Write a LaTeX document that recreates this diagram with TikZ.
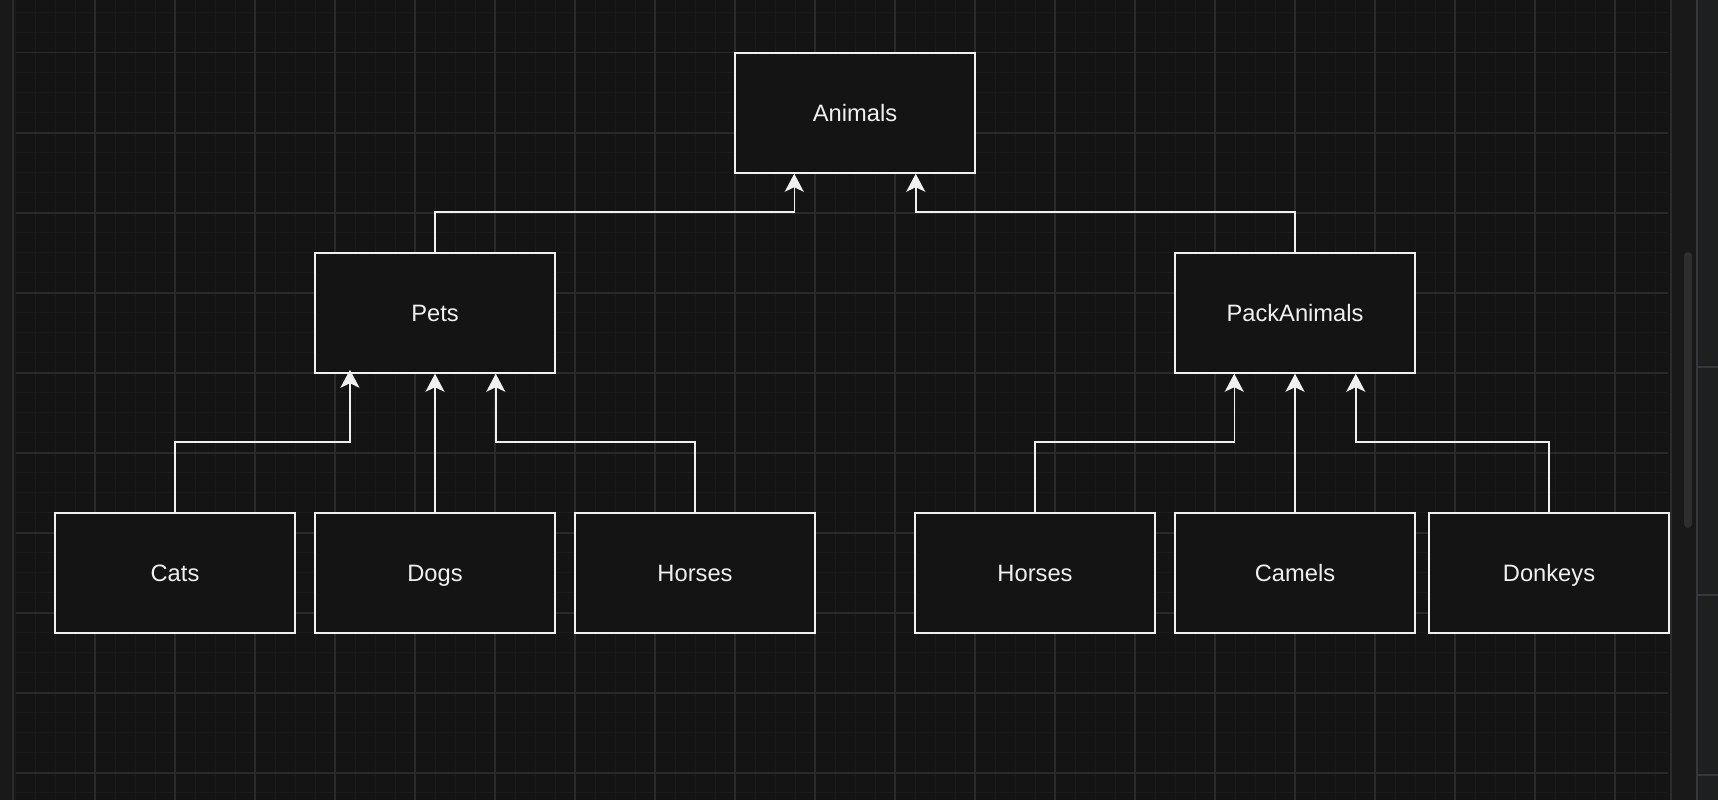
\documentclass[tikz,border=0pt]{standalone}
\usepackage{fontspec}
\setmainfont{Liberation Sans}
\usetikzlibrary{arrows.meta}

\definecolor{canvas}{HTML}{141414}
\definecolor{gridminor}{HTML}{1A1A1A}
\definecolor{gridmajor}{HTML}{2A2A2A}
\definecolor{rail}{HTML}{191919}
\definecolor{railline}{HTML}{2B2B2B}
\definecolor{panel}{HTML}{1E2020}
\definecolor{panelline}{HTML}{38383C}
\definecolor{thumb}{HTML}{2E2E2E}
\definecolor{ink}{HTML}{F0F0F0}

\tikzset{
  classbox/.style={draw=ink, line width=1.5pt, fill=canvas, text=ink,
    minimum width=240pt, minimum height=120pt, inner sep=0pt,
    text height=17pt, text depth=0pt,
    font=\fontsize{23.7}{28}\selectfont},
  inherit/.style={draw=ink, line width=1.5pt,
    -{Stealth[length=18pt,width=19pt,inset=4.5pt]}},
  minorline/.style={draw=gridminor, line width=1pt},
  majorline/.style={draw=gridmajor, line width=1.6pt},
}

\begin{document}
\begin{tikzpicture}[x=1pt,y=-1pt]
\useasboundingbox (0,0) rectangle (1718,800);
\fill[canvas] (0,0) rectangle (1718,800);

% left rail
\fill[rail] (0,0) rectangle (12,800);
\fill[railline] (12,0) rectangle (14,800);
\fill[rail] (14,0) rectangle (16,800);

% canvas grid
\begin{scope}
  \clip (16,0) rectangle (1668,800);
  \foreach \x in {35,55,...,1655} \draw[minorline] (\x,0) -- (\x,800);
  \foreach \y in {12.7,32.7,...,795} \draw[minorline] (16,\y) -- (1668,\y);
  \foreach \x in {95,175,...,1615} \draw[majorline] (\x,0) -- (\x,800);
  \foreach \y in {52.7,132.7,...,780} \draw[majorline] (16,\y) -- (1668,\y);
\end{scope}

% right scrollbar and side panel
\fill[railline] (1670,0) rectangle (1672,800);
\fill[rail] (1672,0) rectangle (1696,800);
\fill[thumb, rounded corners=4pt] (1684,252) rectangle (1692,528);
\fill[panelline] (1696,0) rectangle (1698,800);
\fill[panel] (1698,0) rectangle (1718,800);
\fill[panelline] (1698,366) rectangle (1718,368);
\fill[panelline] (1698,594) rectangle (1718,596);
\fill[panelline] (1698,774) rectangle (1718,776);

% class nodes
\node[classbox] (animals) at (855,113) {Animals};
\node[classbox] (pets) at (435,313) {Pets};
\node[classbox] (pack) at (1295,313) {PackAnimals};
\node[classbox] (cats) at (175,573) {Cats};
\node[classbox] (dogs) at (435,573) {Dogs};
\node[classbox] (horsesA) at (695,573) {Horses};
\node[classbox] (horsesB) at (1035,573) {Horses};
\node[classbox] (camels) at (1295,573) {Camels};
\node[classbox] (donkeys) at (1549,573) {Donkeys};

% inheritance connectors
\draw[inherit] (pets.north) -- ++(0,-40.3) -| ([xshift=60pt]animals.south west);
\draw[inherit] (pack.north) -- ++(0,-40.3) -| ([xshift=-60pt]animals.south east);

\draw[inherit, shorten >=-4pt] (cats.north) -- ++(0,-70.3) -| ([xshift=35.7pt]pets.south west);
\draw[inherit] (dogs.north) -- (pets.south);
\draw[inherit] (horsesA.north) -- ++(0,-70.3) -| ([xshift=-60pt]pets.south east);

\draw[inherit] (horsesB.north) -- ++(0,-70.3) -| ([xshift=60pt]pack.south west);
\draw[inherit] (camels.north) -- (pack.south);
\draw[inherit] (donkeys.north) -- ++(0,-70.3) -| ([xshift=-60pt]pack.south east);
\end{tikzpicture}
\end{document}
